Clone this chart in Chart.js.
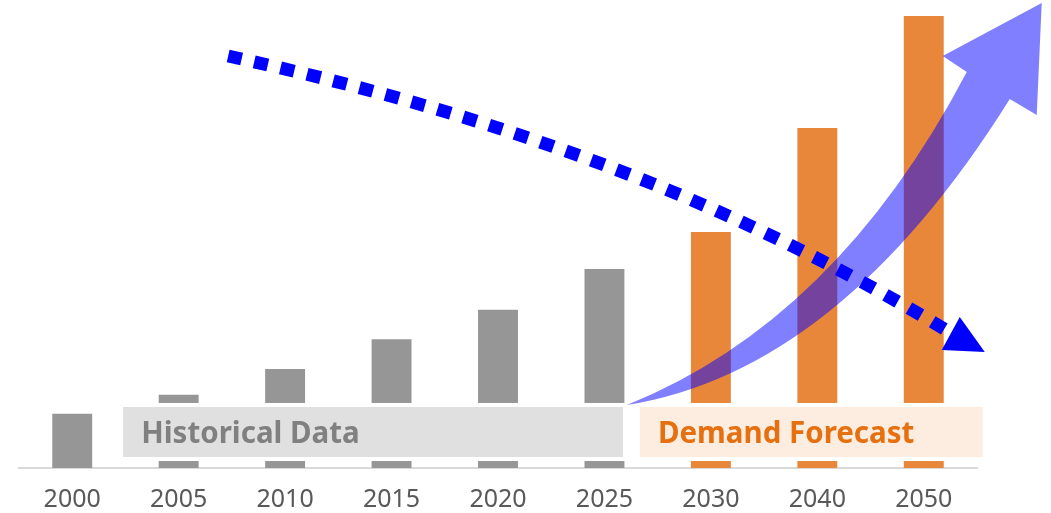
<!DOCTYPE html>
<html>
<head>
<meta charset="utf-8">
<script src="https://cdn.jsdelivr.net/npm/chart.js@4.4.0/dist/chart.umd.min.js"></script>
<style>
  html, body { margin: 0; padding: 0; background: #ffffff; }
  #wrap { width: 1051px; height: 513px; }
</style>
</head>
<body>
<div id="wrap"><canvas id="demandChart" width="1051" height="513"></canvas></div>
<script>
// --- data (2050 = 100) ---
const years = ['2000', '2005', '2010', '2015', '2020', '2025', '2030', '2040', '2050'];
const demand = [12, 16.2, 21.9, 28.5, 35, 44, 52.2, 75.2, 100];
const firstForecast = 6; // 2030 onwards is forecast
const bandLabels = ['Historical Data', 'Demand Forecast'];

const GRAY = '#969696';
const ORANGE = '#E8873A';

// label bands, in category index / value units
const bands = [
    { from: 0.479, to: 5.174, lo: 2.43, hi: 13.5, fill: 'rgba(215,215,215,0.77)', color: '#808080', text: bandLabels[0] },
    { from: 5.333, to: 8.554, lo: 2.43, hi: 13.5, fill: 'rgba(252,232,215,0.78)', color: '#E6700F', text: bandLabels[1] }
];

const overlayPlugin = {
    id: 'overlay',
    afterDatasetsDraw(chart) {
        const {ctx, scales: {x, y}} = chart;
        const P = (i, v) => [x.getPixelForValue(i), y.getPixelForValue(v)];
        ctx.save();

        // Label boxes (white rim cuts the bars)
        bands.forEach(b => {
            const [x0, y0] = P(b.from, b.hi);
            const [x1, y1] = P(b.to, b.lo);
            ctx.fillStyle = '#ffffff';
            ctx.fillRect(x0 - 4, y0 - 4, x1 - x0 + 8, y1 - y0 + 8);
            ctx.fillStyle = b.fill;
            ctx.fillRect(x0, y0, x1 - x0, y1 - y0);
            ctx.fillStyle = b.color;
            ctx.font = 'bold 29.5px "Noto Sans"';
            ctx.textAlign = 'left';
            ctx.textBaseline = 'middle';
            ctx.fillText(b.text, x0 + 18, (y0 + y1) / 2 + 3);
        });

        // Big translucent growth arrow
        ctx.beginPath();
        ctx.moveTo(...P(5.211, 13.94));
        ctx.quadraticCurveTo(...P(7.174, 32.52), ...P(8.404, 87.61));
        ctx.lineTo(...P(8.178, 91.15));
        ctx.lineTo(...P(9.108, 102.88));
        ctx.lineTo(...P(9.061, 78.10));
        ctx.lineTo(...P(8.808, 81.64));
        ctx.quadraticCurveTo(...P(7.211, 21.46), ...P(5.211, 13.94));
        ctx.closePath();
        ctx.fillStyle = 'rgba(0,0,255,0.5)';
        ctx.fill();

        // Dotted declining arrow
        ctx.beginPath();
        ctx.moveTo(...P(1.465, 91.15));
        ctx.bezierCurveTo(...P(3.549, 80.31), ...P(5.897, 63.72), ...P(8.254, 29.87));
        ctx.strokeStyle = '#0000FF';
        ctx.lineWidth = 13;
        ctx.lineCap = 'butt';
        ctx.setLineDash([14, 13]);
        ctx.stroke();
        ctx.setLineDash([]);

        ctx.beginPath();
        ctx.moveTo(...P(8.338, 33.41));
        ctx.lineTo(...P(8.169, 26.11));
        ctx.lineTo(...P(8.573, 25.66));
        ctx.closePath();
        ctx.fillStyle = '#0000FF';
        ctx.fill();

        ctx.restore();
    }
};

const demandChart = new Chart(document.getElementById('demandChart').getContext('2d'), {
    type: 'bar',
    plugins: [overlayPlugin],
    data: {
        labels: years,
        datasets: [{
            data: demand,
            backgroundColor: demand.map((v, i) => i >= firstForecast ? ORANGE : GRAY),
            borderWidth: 0,
            categoryPercentage: 1,
            barPercentage: 0.375
        }]
    },
    options: {
        responsive: false,
        animation: false,
        layout: { padding: { left: 19, right: 74, top: 16, bottom: 0 } },
        plugins: {
            legend: { display: false },
            tooltip: { enabled: false }
        },
        scales: {
            x: {
                afterFit: (scale) => { scale.height = 45; },
                grid: { display: false, drawTicks: false },
                border: { display: true, color: '#D9D9D9', width: 2 },
                ticks: {
                    color: '#595959',
                    padding: 17,
                    font: { family: '"Noto Sans"', size: 25 }
                }
            },
            y: {
                display: false,
                min: 0,
                max: 100
            }
        }
    }
});
</script>
</body>
</html>
